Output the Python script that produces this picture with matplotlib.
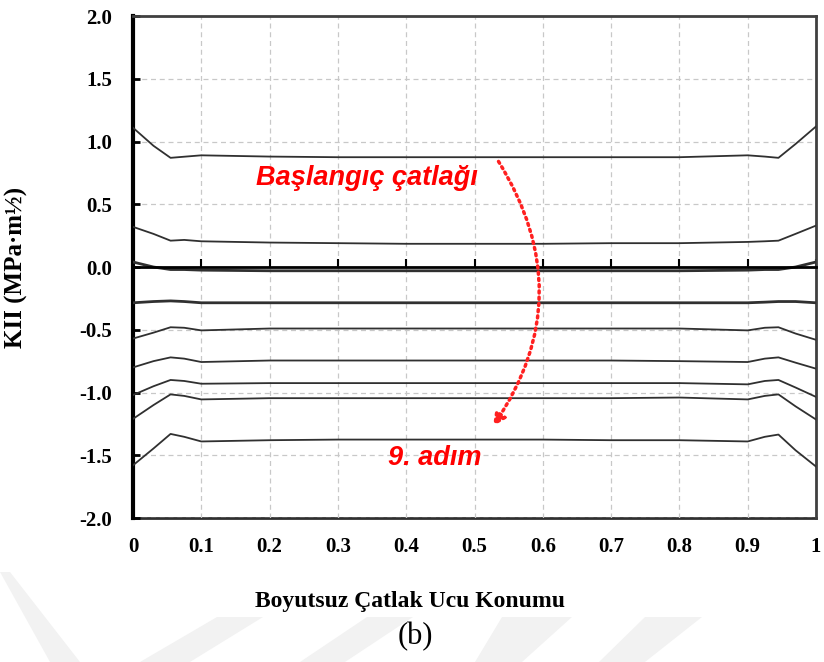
import numpy as np
import matplotlib.pyplot as plt
from matplotlib.patches import Polygon

# crack tip position (dimensionless) and KII for each propagation step
x = [0, 0.03, 0.055, 0.075, 0.1, 0.2, 0.3, 0.4, 0.5, 0.6, 0.7, 0.8, 0.9, 0.925, 0.945, 0.97, 1.0]
step1 = [1.11, 0.966, 0.87, 0.879, 0.89, 0.88, 0.875, 0.875, 0.875, 0.875, 0.875, 0.875, 0.89, 0.88, 0.87, 0.98, 1.12]
step2 = [0.32, 0.264, 0.21, 0.216, 0.205, 0.195, 0.19, 0.185, 0.185, 0.185, 0.19, 0.19, 0.20, 0.205, 0.21, 0.264, 0.33]
step3 = [0.04, 0.0, -0.02, -0.02, -0.025, -0.03, -0.03, -0.03, -0.03, -0.03, -0.03, -0.03, -0.025, -0.02, -0.02, 0.0, 0.04]
step4 = [-0.285, -0.275, -0.27, -0.275, -0.285, -0.285, -0.285, -0.285, -0.285, -0.285, -0.285, -0.285, -0.285, -0.28, -0.275, -0.275, -0.285]
step5 = [-0.57, -0.523, -0.48, -0.484, -0.505, -0.49, -0.49, -0.49, -0.49, -0.49, -0.49, -0.49, -0.505, -0.484, -0.48, -0.53, -0.58]
step6 = [-0.80, -0.75, -0.72, -0.73, -0.757, -0.745, -0.745, -0.745, -0.745, -0.745, -0.745, -0.75, -0.757, -0.73, -0.72, -0.762, -0.81]
step7 = [-1.02, -0.95, -0.90, -0.908, -0.93, -0.925, -0.925, -0.925, -0.925, -0.925, -0.925, -0.925, -0.935, -0.908, -0.90, -0.96, -1.035]
step8 = [-1.21, -1.10, -1.015, -1.027, -1.055, -1.045, -1.045, -1.045, -1.045, -1.045, -1.045, -1.04, -1.055, -1.027, -1.015, -1.11, -1.215]
step9 = [-1.58, -1.446, -1.33, -1.353, -1.39, -1.38, -1.375, -1.375, -1.375, -1.375, -1.38, -1.38, -1.39, -1.353, -1.335, -1.46, -1.59]
steps = [step1, step2, step3, step4, step5, step6, step7, step8, step9]

xticks = np.arange(0, 1.01, 0.1)
xticklabels = ['0', '0.1', '0.2', '0.3', '0.4', '0.5', '0.6', '0.7', '0.8', '0.9', '1']
yticks = np.arange(-2.0, 2.01, 0.5)

serif = 'Liberation Serif'
sans = 'Liberation Sans'

fig = plt.figure(figsize=(8.24, 6.62), dpi=100)

# faint watermark stripes at the bottom of the page
wm = [[(0, 572), (10, 572), (80, 662), (50, 662)],
      [(217, 617), (263, 617), (190, 662), (140, 662)],
      [(367, 617), (413, 617), (345, 662), (300, 662)],
      [(502, 617), (572, 617), (522, 662), (475, 662)],
      [(645, 617), (702, 617), (645, 662), (599, 662)]]
for pts in wm:
    fig.patches.append(Polygon([(px / 824, 1 - py / 662) for px, py in pts],
                               closed=True, transform=fig.transFigure,
                               facecolor='#f2f2f2', edgecolor='none', zorder=0))

ax = fig.add_axes([0.1614, 0.2175, 0.8289, 0.7583])

for i, s in enumerate(steps):
    lw = 2.0 if i in (2, 3) else 1.3
    ax.plot(x, s, color='#303030', lw=lw, zorder=3)

ax.set_xlim(0, 1)
ax.set_ylim(-2, 2)
ax.set_yticks(yticks)
ax.set_yticklabels(['%.1f' % v for v in yticks], fontfamily=serif,
                   fontweight='bold', fontsize=15)
ax.grid(True, color='#c8c8c8', ls=(0, (4, 3)), lw=0.9)

# horizontal axis crosses at 0, labels stay at the bottom
ax.spines['bottom'].set_position(('data', 0))
ax.spines['bottom'].set_linewidth(2.0)
ax.spines['bottom'].set_zorder(4)
ax.set_xticks(xticks)
ax.tick_params(axis='x', direction='in', length=6, width=1.5, labelbottom=False)
ax.tick_params(axis='y', direction='in', length=5, width=2, pad=15)

sec = ax.secondary_xaxis(0.0)
sec.set_xticks(xticks)
sec.set_xticklabels(xticklabels, fontfamily=serif, fontweight='bold', fontsize=15)
sec.tick_params(length=0, pad=14)
sec.spines['bottom'].set_linewidth(2.0)
sec.spines['bottom'].set_color('#303030')

ax.spines['left'].set_linewidth(3.0)
ax.spines['left'].set_color('black')
ax.spines['top'].set_linewidth(2.0)
ax.spines['top'].set_color('#404040')
ax.spines['right'].set_linewidth(2.0)
ax.spines['right'].set_color('#404040')

ax.set_ylabel('KII (MPa·m½)', fontfamily=serif, fontweight='bold', fontsize=18)
ax.yaxis.set_label_coords(-(133 - 28) / 683, 0.5)

fig.text(410 / 824, 1 - 601 / 662, 'Boyutsuz Çatlak Ucu Konumu', ha='center',
         va='center', fontfamily=serif, fontweight='bold', fontsize=17)
fig.text(415 / 824, 1 - 637 / 662, '(b)', ha='center', va='center',
         fontfamily=serif, fontsize=22)

ax.text(0.343, 0.712, 'Başlangıç çatlağı', color='#ff0000', ha='center',
        va='center', fontfamily=sans, fontweight='bold', fontstyle='italic',
        fontsize=19.5, zorder=5)
ax.text(0.442, -1.52, '9. adım', color='#ff0000', ha='center', va='center',
        fontfamily=sans, fontweight='bold', fontstyle='italic', fontsize=19.5,
        zorder=5)
ax.annotate('', xy=(0.525, -1.285), xytext=(0.533, 0.86),
            arrowprops=dict(arrowstyle='-|>,head_length=0.7,head_width=0.35',
                            color='#ff2020', lw=2.5, ls=(0, (0.6, 1.2)),
                            connectionstyle='arc3,rad=-0.33'),
            zorder=5)

fig.savefig('out.png', dpi=100)
